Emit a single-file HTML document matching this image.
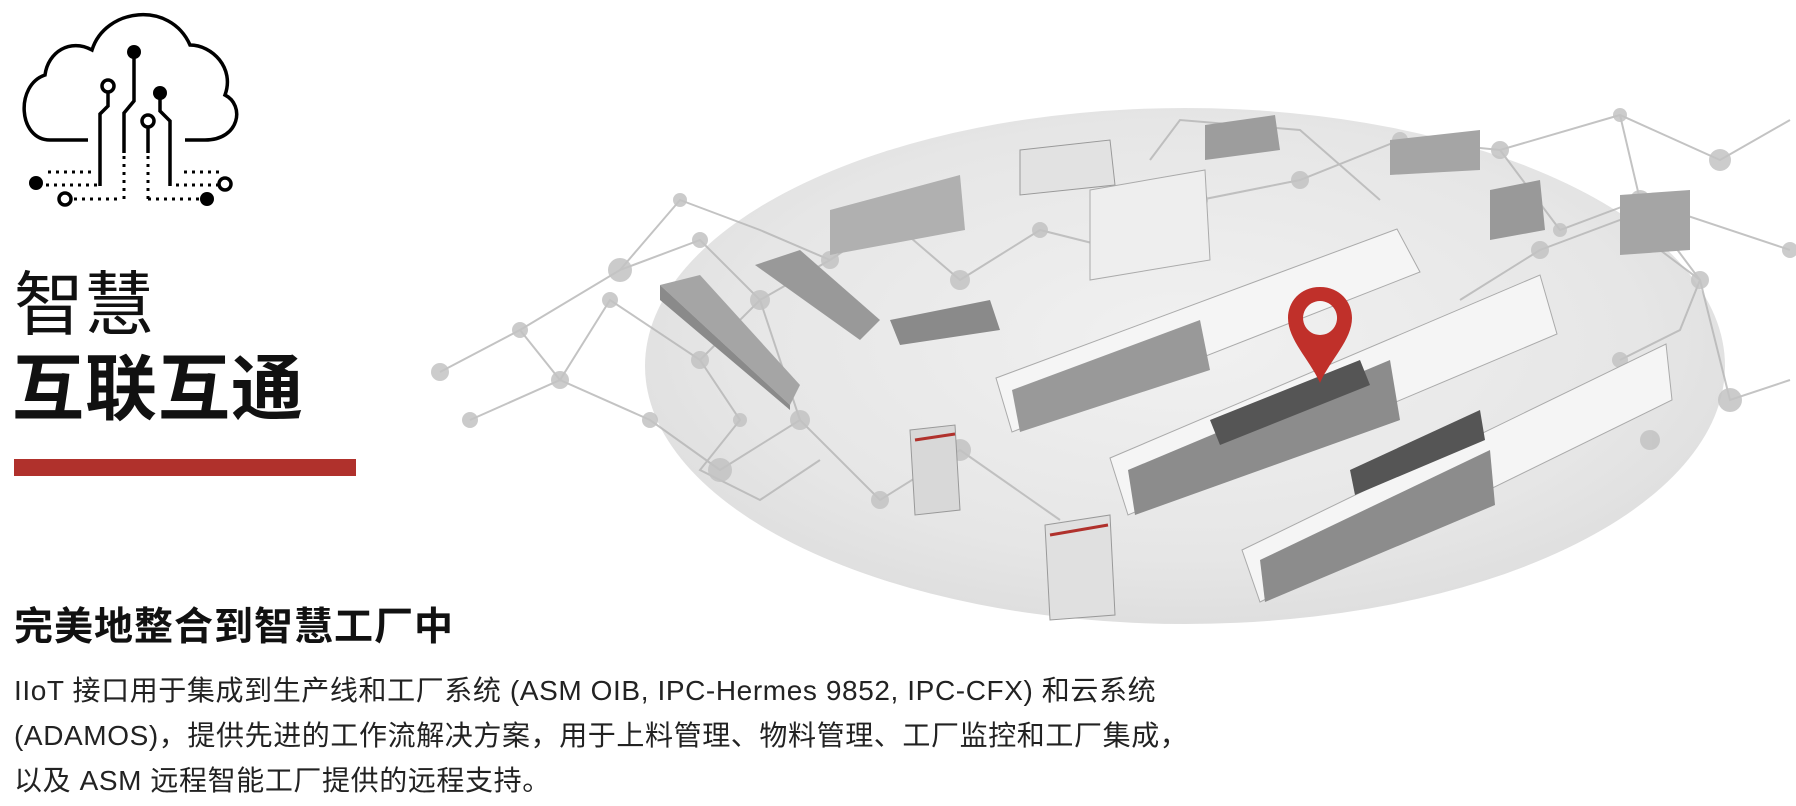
<!DOCTYPE html>
<html><head><meta charset="utf-8"><style>
html,body{margin:0;padding:0;background:#fff;}
body{width:1796px;height:806px;position:relative;overflow:hidden;font-family:"Liberation Sans","Noto Sans CJK SC",sans-serif;color:#111;}
.t1{position:absolute;left:14px;top:270px;font-size:70px;font-weight:400;line-height:1;}
.t2{position:absolute;left:12px;top:354px;font-size:72px;font-weight:700;line-height:1;letter-spacing:1px;}
.bar{position:absolute;left:14px;top:459px;width:342px;height:17px;background:#b0312c;}
.h{position:absolute;left:14px;top:608px;font-size:39px;font-weight:700;line-height:1;letter-spacing:1px;}
.p{position:absolute;left:14px;top:668px;font-size:28px;line-height:45px;white-space:nowrap;color:#222;letter-spacing:0.6px;}
svg{position:absolute;left:0;top:0;}
</style></head><body>
<svg width="1796" height="806" viewBox="0 0 1796 806">
<defs>
<radialGradient id="g" cx="0.5" cy="0.45" r="0.6">
<stop offset="0" stop-color="#f1f1f1"/><stop offset="0.7" stop-color="#e6e6e6"/><stop offset="1" stop-color="#dcdcdc"/>
</radialGradient>
</defs>
<!-- cloud icon -->
<g fill="none" stroke="#000" stroke-width="3.5">
<path d="M88 140 H50 C18 140 15 85 45 75 C48 52 70 38 92 50 C105 8 170 0 190 45 C212 45 235 68 225 95 C245 105 240 140 205 140 H185"/>
<circle cx="108" cy="86" r="6"/><circle cx="148" cy="121" r="6"/><circle cx="65" cy="199" r="6"/><circle cx="225" cy="184" r="6"/>
<path d="M108 92 V106 L100 114 V186"/><path d="M134 58 V101 L124 113 V153"/><path d="M160 99 V111 L170 121 V186"/><path d="M148 127 V153"/>
</g>
<g fill="#000"><circle cx="134" cy="52" r="7"/><circle cx="160" cy="93" r="7"/><circle cx="36" cy="183" r="7"/><circle cx="207" cy="199" r="7"/></g>
<g stroke="#000" stroke-width="3" stroke-dasharray="3 5" fill="none">
<path d="M48 172 H92"/><path d="M46 185 H98"/><path d="M74 199 H118"/><path d="M124 156 V203"/><path d="M148 156 V203"/><path d="M148 199 H200"/><path d="M176 185 H218"/><path d="M184 172 H222"/>
</g>
<!-- ellipse -->
<ellipse cx="1185" cy="366" rx="540" ry="258" fill="url(#g)"/>
<!-- network lines -->
<g stroke="#b5b5b5" stroke-width="2" fill="none" opacity="0.8">
<path d="M440 372 L520 330 L620 270 L700 240 L760 300 L830 260 L890 220 L960 280 L1040 230 L1120 250 L1200 200 L1300 180 L1400 140 L1500 150 L1620 115 L1720 160 L1790 120"/>
<path d="M470 420 L560 380 L650 420 L720 470 L800 420 L880 500 L960 450 L1060 520"/>
<path d="M520 330 L560 380 L610 300 L700 360 L760 300 L800 420"/>
<path d="M1460 300 L1540 250 L1620 220 L1700 280 L1730 400 L1790 380"/>
<path d="M1620 115 L1640 200 L1700 280 L1680 330 L1620 360"/>
<path d="M1500 150 L1560 230 L1640 200 L1790 250"/>
<path d="M620 270 L680 200 L760 230 L830 260"/>
<path d="M700 360 L740 420 L700 470 L760 500 L820 460"/>
<path d="M1150 160 L1180 120 L1300 130 L1380 200"/>
</g>
<g fill="#c3c3c3" opacity="0.85">
<circle cx="440" cy="372" r="9"/><circle cx="520" cy="330" r="8"/><circle cx="620" cy="270" r="12"/><circle cx="700" cy="240" r="8"/><circle cx="760" cy="300" r="10"/><circle cx="560" cy="380" r="9"/><circle cx="650" cy="420" r="8"/><circle cx="720" cy="470" r="12"/><circle cx="800" cy="420" r="10"/><circle cx="610" cy="300" r="8"/><circle cx="700" cy="360" r="9"/><circle cx="740" cy="420" r="7"/><circle cx="470" cy="420" r="8"/><circle cx="830" cy="260" r="9"/><circle cx="890" cy="220" r="7"/><circle cx="960" cy="280" r="10"/><circle cx="1040" cy="230" r="8"/><circle cx="1120" cy="250" r="10"/><circle cx="1200" cy="200" r="8"/><circle cx="1300" cy="180" r="9"/><circle cx="1400" cy="140" r="8"/><circle cx="1500" cy="150" r="9"/><circle cx="1620" cy="115" r="7"/><circle cx="1720" cy="160" r="11"/><circle cx="1540" cy="250" r="9"/><circle cx="1640" cy="200" r="10"/><circle cx="1700" cy="280" r="9"/><circle cx="1730" cy="400" r="12"/><circle cx="1620" cy="360" r="8"/><circle cx="1650" cy="440" r="10"/><circle cx="880" cy="500" r="9"/><circle cx="960" cy="450" r="11"/><circle cx="1560" cy="230" r="7"/><circle cx="1790" cy="250" r="8"/><circle cx="680" cy="200" r="7"/>
</g>
<!-- machines -->
<g>
<polygon points="660,285 700,275 800,385 790,405" fill="#a5a5a5"/>
<polygon points="660,285 790,405 790,410 660,300" fill="#8a8a8a"/>
<polygon points="755,265 800,250 880,320 860,340" fill="#999"/>
<polygon points="830,210 960,175 965,230 830,255" fill="#b0b0b0"/>
<polygon points="890,320 990,300 1000,330 900,345" fill="#8a8a8a"/>
<polygon points="1020,150 1110,140 1115,185 1020,195" fill="#e2e2e2" stroke="#999"/>
<polygon points="1090,190 1205,170 1210,260 1090,280" fill="#eee" stroke="#aaa"/>
<polygon points="1205,125 1275,115 1280,150 1205,160" fill="#9d9d9d"/>
<polygon points="1390,140 1480,130 1480,170 1390,175" fill="#a5a5a5"/>
<polygon points="1490,190 1540,180 1545,230 1490,240" fill="#999"/>
<polygon points="1620,195 1690,190 1690,250 1620,255" fill="#a5a5a5"/>
</g>
<g>
<polygon points="996,378 1397,229 1420,272 1012,432" fill="#f5f5f5" stroke="#aaa"/>
<polygon points="1012,390 1200,320 1210,370 1020,432" fill="#999"/>
<polygon points="1110,458 1540,275 1557,334 1128,515" fill="#f5f5f5" stroke="#aaa"/>
<polygon points="1128,470 1390,360 1400,420 1135,515" fill="#8c8c8c"/>
<polygon points="1210,420 1360,360 1370,385 1220,445" fill="#555"/>
<polygon points="1242,550 1666,344 1672,400 1260,602" fill="#f5f5f5" stroke="#aaa"/>
<polygon points="1260,560 1490,450 1495,505 1265,602" fill="#8c8c8c"/>
<polygon points="1350,470 1480,410 1485,440 1355,495" fill="#555"/>
<polygon points="910,430 955,425 960,510 915,515" fill="#d8d8d8" stroke="#999"/>
<polygon points="1045,525 1110,515 1115,615 1050,620" fill="#e0e0e0" stroke="#999"/>
<line x1="1050" y1="535" x2="1108" y2="525" stroke="#b0312c" stroke-width="3"/>
<line x1="915" y1="440" x2="955" y2="434" stroke="#b0312c" stroke-width="3"/>
</g>
<!-- pin -->
<path d="M1320 287 C1300 287 1288 302 1288 318 C1288 340 1310 360 1320 383 C1330 360 1352 340 1352 318 C1352 302 1340 287 1320 287 Z M1320 301 A17 17 0 1 0 1320.1 301 Z" fill="#c0302a" fill-rule="evenodd"/>
</svg>
<div class="t1">智慧</div>
<div class="t2">互联互通</div>
<div class="bar"></div>
<div class="h">完美地整合到智慧工厂中</div>
<div class="p">IIoT 接口用于集成到生产线和工厂系统 (ASM OIB, IPC-Hermes 9852, IPC-CFX) 和云系统<br>(ADAMOS)，提供先进的工作流解决方案，用于上料管理、物料管理、工厂监控和工厂集成，<br>以及 ASM 远程智能工厂提供的远程支持。</div>
</body></html>
